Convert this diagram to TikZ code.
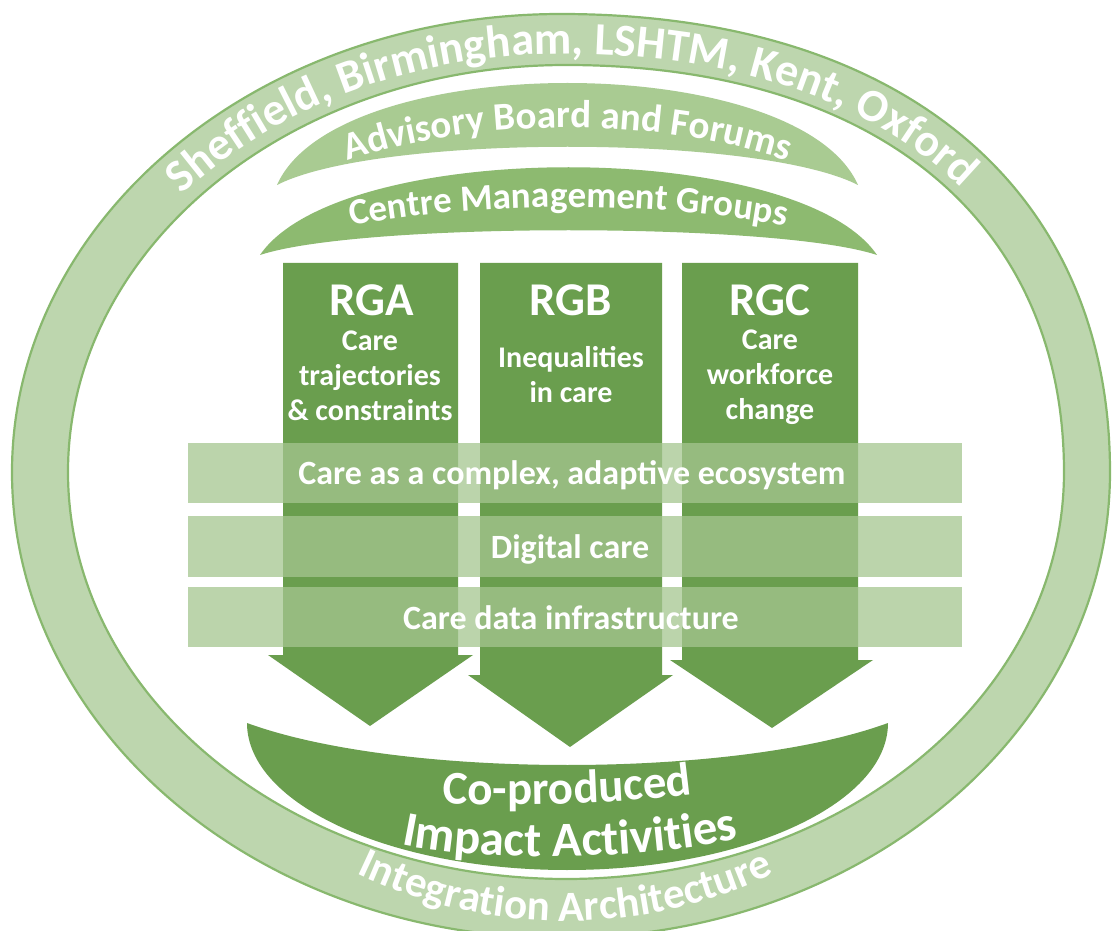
\documentclass[tikz,border=0pt]{standalone}
\usepackage{fontspec}
\setmainfont{Carlito}
\usepackage{xcolor}
\usepackage{tikz}
\usetikzlibrary{decorations.text}

\definecolor{ringgreen}{RGB}{189,214,174}
\definecolor{ringedge}{RGB}{136,184,110}
\definecolor{boardgreen}{RGB}{169,203,146}
\definecolor{groupgreen}{RGB}{141,186,112}
\definecolor{arrowgreen}{RGB}{106,158,78}
\definecolor{bandgreen}{RGB}{165,198,144}

\begin{document}
\begin{tikzpicture}[x=0.5pt, y=-0.5pt,
        head/.style={text=white, font=\bfseries\fontsize{23.5}{26}\selectfont, anchor=base},
        sub/.style={text=white, font=\bfseries\fontsize{15}{17.5}\selectfont, align=center},
        bandlabel/.style={text=white, font=\bfseries\fontsize{17}{20}\selectfont, anchor=base},
        band/.style={bandgreen, fill opacity=0.75},
        curved/.style 2 args={decorate, decoration={text along path, text align=center,
            text color=white, text={|\bfseries\fontsize{#1}{#1}\selectfont|#2}}}]
        \fill[white] (0,0) rectangle (1116,931);
        \useasboundingbox (0,0) rectangle (1116,931);

        \path[fill=ringgreen, draw=ringedge, line width=1.1pt, even odd rule]
            (12,472) .. controls (12,219) and (258,14) .. (561,14)
            .. controls (901,14) and (1110,188) .. (1110,472)
            .. controls (1110,729) and (864,938) .. (561,938)
            .. controls (258,938) and (12,729) .. (12,472) -- cycle
            (68,472) .. controls (68,247) and (291,65) .. (566,65)
            .. controls (875,65) and (1064,220) .. (1064,472)
            .. controls (1064,697) and (841,879) .. (566,879)
            .. controls (291,879) and (68,697) .. (68,472) -- cycle;

        \fill[boardgreen] (277,185) .. controls (337,49) and (798,49) .. (858,185)
            .. controls (758,134) and (377,134) .. (277,185) -- cycle;
        \fill[groupgreen] (260,255) .. controls (340,138) and (797,138) .. (877,255)
            .. controls (777,222) and (360,222) .. (260,255) -- cycle;

        \fill[arrowgreen] (480,263) -- (662,263) -- (662,675) -- (673,675) -- (570,747)
            -- (468,675) -- (480,675) -- cycle;
        \fill[arrowgreen] (283,263) -- (458,263) -- (458,655) -- (473,655) -- (370,726)
            -- (268,655) -- (283,655) -- cycle;
        \fill[arrowgreen] (682,263) -- (858,263) -- (858,660) -- (873,660) -- (772,728)
            -- (670,660) -- (682,660) -- cycle;

        \fill[band] (188,443) rectangle (962,503);
        \fill[band] (188,516) rectangle (962,577);
        \fill[band] (188,587) rectangle (962,647);

        \fill[arrowgreen] (247,723) .. controls (400,779) and (735,779) .. (888,723)
            .. controls (888,804) and (744,870) .. (567,870)
            .. controls (390,870) and (247,804) .. (247,723) -- cycle;

        \node[head] (rga) at (372,315) {RGA};
        \node[head] (rgb) at (571,315) {RGB};
        \node[head] (rgc) at (770,315) {RGC};
        \node[sub] (rgaSub) at (370,376) {Care\\trajectories\\\& constraints};
        \node[sub] (rgbSub) at (571,375) {Inequalities\\in care};
        \node[sub] (rgcSub) at (770,377) {Care\\workforce\\change};

        \node[bandlabel] (eco) at (572,485) {Care as a complex, adaptive ecosystem};
        \node[bandlabel] (digital) at (570,558) {Digital care};
        \node[bandlabel] (data) at (571,629) {Care data infrastructure};

        \path[curved={23}{Sheffield, Birmingham, LSHTM, Kent, Oxford}]
            (54,472) .. controls (54,241) and (282,54) .. (563,54)
            .. controls (879,54) and (1073,213) .. (1073,472);
        \path[curved={19.5}{Advisory Board and Forums}]
            (280,190) .. controls (430,107) and (705,107) .. (855,190);
        \path[curved={18.5}{Centre Management Groups}]
            (262,250) .. controls (412,193) and (725,193) .. (875,250);
        \path[curved={23.5}{Co-produced}]
            (415,801) .. controls (490,808) and (640,805) .. (720,790);
        \path[curved={24.5}{Impact Activities}]
            (370,836) .. controls (450,866) and (680,862) .. (770,830);
        \path[curved={21.5}{Integration Architecture}]
            (160,696) arc[start angle=150, end angle=30, x radius=468, y radius=450];
    \end{tikzpicture}
\end{document}
